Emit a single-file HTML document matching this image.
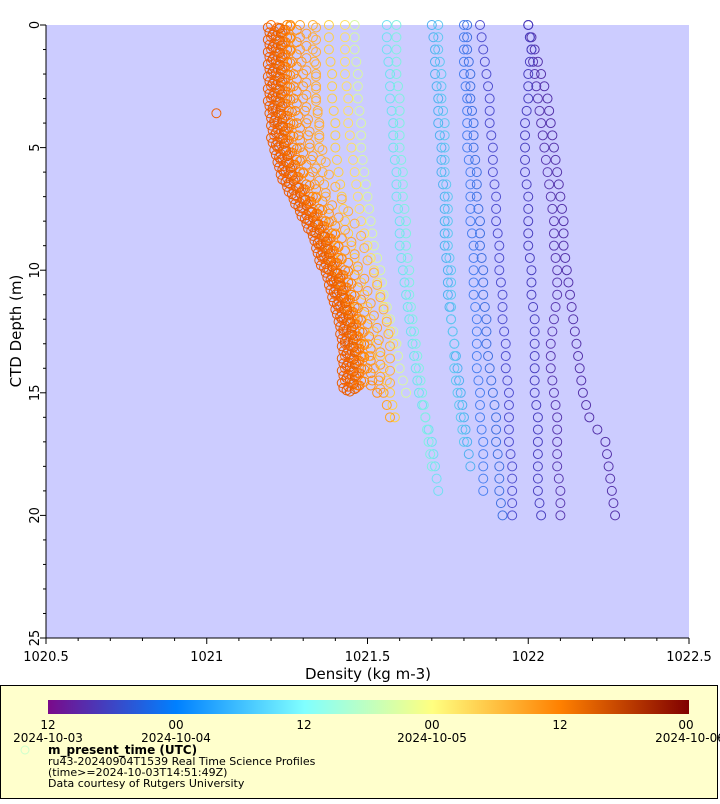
<!DOCTYPE html>
<html><head><meta charset="utf-8"><style>
body{margin:0;background:#fff;width:720px;height:800px;overflow:hidden;font-family:"DejaVu Sans","Liberation Sans",sans-serif}
svg text{font-family:"DejaVu Sans","Liberation Sans",sans-serif}
</style></head><body>
<svg id="chart" width="720" height="800" xmlns="http://www.w3.org/2000/svg">
<defs><linearGradient id="cg" x1="0" x2="1" y1="0" y2="0">
<stop offset="0" stop-color="#7a0a8a"/><stop offset="0.2" stop-color="#0080ff"/><stop offset="0.4" stop-color="#80ffff"/><stop offset="0.6" stop-color="#ffff80"/><stop offset="0.8" stop-color="#ff8000"/><stop offset="1" stop-color="#800000"/></linearGradient></defs>
<rect x="46" y="25" width="643" height="613" fill="#ccccff"/>
<g id="marks"></g>
<g id="axes"></g>
<text x="368" y="679" font-size="15" text-anchor="middle">Density (kg m-3)</text>
<text transform="translate(21,331) rotate(-90)" font-size="15" text-anchor="middle">CTD Depth (m)</text>
<g>
<rect x="0.5" y="685.5" width="717" height="113" fill="#ffffcc" stroke="#000"/>
<rect x="48" y="700" width="641" height="14" fill="url(#cg)"/>
<g font-size="12" text-anchor="middle">
<text x="48" y="729">12</text><text x="176" y="729">00</text><text x="304" y="729">12</text><text x="432" y="729">00</text><text x="560" y="729">12</text><text x="686" y="729">00</text>
<text x="48" y="742">2024-10-03</text><text x="176" y="742">2024-10-04</text><text x="432" y="742">2024-10-05</text><text x="690" y="742">2024-10-06</text>
</g>
<circle cx="25" cy="750" r="4" fill="none" stroke="#ccffcc"/>
<text x="48" y="754" font-size="12" font-weight="bold">m_present_time (UTC)</text>
<text x="48" y="765" font-size="11">ru43-20240904T1539 Real Time Science Profiles</text>
<text x="48" y="776" font-size="11">(time&gt;=2024-10-03T14:51:49Z)</text>
<text x="48" y="787" font-size="11">Data courtesy of Rutgers University</text>
</g>
</svg>
<script>
const xTicks=[1020.5,1021,1021.5,1022,1022.5];
const xTickLabels=["1020.5","1021","1021.5","1022","1022.5"];
const yTicks=[0,5,10,15,20,25];
const orangeBaseDepth=[0,0.5,1,1.5,2,2.5,3,3.5,4,4.5,5,5.5,6,6.5,7,7.5,8,8.5,9,9.5,10,10.5,11,11.5,12,12.5,13,13.5,14,14.5];
const orangeBaseDensity=[1021.22,1021.22,1021.22,1021.22,1021.22,1021.22,1021.22,1021.225,1021.23,1021.23,1021.24,1021.25,1021.26,1021.28,1021.30,1021.32,1021.34,1021.36,1021.37,1021.38,1021.40,1021.41,1021.42,1021.43,1021.44,1021.445,1021.45,1021.45,1021.45,1021.45];
const orangeOffsets=[-0.03,-0.02,-0.01,0,0.01,0.02,0.03,-0.015,0.005,0.015,0.04,-0.005,0.025,-0.025,0.008,0.06,0.09,0.12];
const orangeDepthShift=[0.1,0,0.25,0.1,0.35,0.2,0,0.4,0.15,0.3,0.05,0.45,0.2,0.3,0.12,0.2,0.35,0.1];
const orangeColors=["#e86000","#ff7000","#f06400","#ff6a00","#e05800","#ff7800","#ff8000","#e85a00","#f06800","#f86800","#ff8800","#e86200","#ff7400","#f05c00","#e86600","#ff9020","#ffa030","#ffb040"];
const profDepth=[0,1,2,3,4,5,6,7,8,9,10,11,12,13,14,15,16,17,18,19,20];
const profiles=[
 {c:"#5533aa",d:[1022.0,1022.02,1022.04,1022.06,1022.07,1022.08,1022.09,1022.10,1022.11,1022.11,1022.12,1022.13,1022.14,1022.15,1022.16,1022.17,1022.19,1022.24,1022.25,1022.26,1022.27]},
 {c:"#5a3ab0",d:[1022.0,1022.01,1022.02,1022.03,1022.04,1022.05,1022.06,1022.07,1022.08,1022.08,1022.09,1022.09,1022.08,1022.07,1022.07,1022.08,1022.09,1022.09,1022.09,1022.1,1022.1]},
 {c:"#4a40c0",d:[1022.0,1022.01,1022.0,1022.0,1021.99,1021.99,1021.99,1022.0,1022.0,1022.0,1022.01,1022.01,1022.02,1022.02,1022.02,1022.02,1022.03,1022.03,1022.03,1022.03,1022.04]},
 {c:"#5050d0",d:[1021.85,1021.86,1021.87,1021.88,1021.88,1021.89,1021.89,1021.90,1021.90,1021.91,1021.91,1021.92,1021.92,1021.93,1021.93,1021.94,1021.94,1021.94,1021.95,1021.95,1021.95]},
 {c:"#4070e0",d:[1021.81,1021.81,1021.82,1021.82,1021.83,1021.83,1021.84,1021.84,1021.85,1021.85,1021.86,1021.86,1021.87,1021.87,1021.88,1021.89,1021.90,1021.90,1021.91,1021.91,1021.92]},
 {c:"#4a80f0",d:[1021.80,1021.80,1021.80,1021.81,1021.81,1021.81,1021.82,1021.82,1021.82,1021.83,1021.83,1021.83,1021.84,1021.84,1021.84,1021.85,1021.85,1021.86,1021.86,1021.86,null]},
 {c:"#50b0f0",d:[1021.70,1021.71,1021.71,1021.72,1021.72,1021.73,1021.73,1021.74,1021.74,1021.74,1021.75,1021.75,1021.76,1021.77,1021.78,1021.79,1021.80,1021.81,1021.82,null,null]},
 {c:"#60c8f0",d:[1021.72,1021.72,1021.73,1021.73,1021.74,1021.74,1021.74,1021.75,1021.75,1021.75,1021.76,1021.76,1021.76,1021.77,1021.77,1021.78,1021.79,1021.80,null,null,null]},
 {c:"#70e0f0",d:[1021.56,1021.56,1021.57,1021.57,1021.58,1021.58,1021.59,1021.59,1021.60,1021.60,1021.61,1021.62,1021.63,1021.64,1021.65,1021.66,1021.68,1021.70,1021.71,1021.72,null]},
 {c:"#80f0e0",d:[1021.59,1021.59,1021.59,1021.60,1021.60,1021.60,1021.61,1021.61,1021.62,1021.62,1021.63,1021.63,1021.64,1021.65,1021.66,1021.67,1021.68,1021.69,1021.70,null,null]},
 {c:"#d8f8a0",d:[1021.46,1021.46,1021.47,1021.47,1021.48,1021.48,1021.49,1021.50,1021.51,1021.52,1021.54,1021.55,1021.57,1021.59,1021.60,1021.62,null,null,null,null,null]},
 {c:"#ffd040",d:[1021.38,1021.38,1021.39,1021.39,1021.40,1021.40,1021.41,1021.42,1021.43,1021.45,1021.47,1021.49,1021.51,1021.53,1021.55,1021.57,1021.585,null,null,null,null]},
 {c:"#ffe060",d:[1021.43,1021.43,1021.43,1021.44,1021.44,1021.45,1021.46,1021.47,1021.48,1021.50,1021.52,1021.54,1021.56,1021.58,null,null,null,null,null,null,null]},
 {c:"#ffa020",d:[1021.29,1021.29,1021.30,1021.30,1021.31,1021.32,1021.33,1021.34,1021.36,1021.38,1021.40,1021.43,1021.46,1021.49,1021.52,1021.55,1021.57,null,null,null,null]},
 {c:"#ffb030",d:[1021.33,1021.33,1021.34,1021.34,1021.35,1021.35,1021.36,1021.37,1021.39,1021.41,1021.43,1021.45,1021.48,1021.50,1021.52,null,null,null,null,null,null]},
 {c:"#ff9010",d:[1021.26,1021.26,1021.27,1021.27,1021.28,1021.29,1021.30,1021.32,1021.34,1021.36,1021.39,1021.42,1021.45,1021.47,1021.50,1021.53,null,null,null,null,null]}
];
const X0=46,X1=689,Y0=25,Y1=638;
const xs=v=>X0+(v-1020.5)/2*(X1-X0);
const ys=v=>Y0+v/25*(Y1-Y0);
const NS="http://www.w3.org/2000/svg";
const marks=document.getElementById('marks');
function dot(x,y,c,name){
 const e=document.createElementNS(NS,'circle');
 e.setAttribute('cx',x);e.setAttribute('cy',y);e.setAttribute('r',4.5);
 e.setAttribute('fill','none');e.setAttribute('stroke',c);e.setAttribute('stroke-width','1');
 
 
 marks.appendChild(e);
}
profiles.forEach((p,pi)=>{
 for(let s=0;s<2;s++){
  p.d.forEach((v,i)=>{
   if(v===null)return;
   if(s===1&&i===p.d.length-1)return;
   if(s===1&&p.d[i+1]==null)return;
   const dd=profDepth[i]+s*0.5;
   const vv=s===1?(v+p.d[i+1])/2:v;
   dot(xs(vv),ys(dd),p.c,'profile-'+pi+'-point');
  });
 }
});
orangeOffsets.forEach((o,k)=>{
 orangeBaseDensity.forEach((v,i)=>{
  dot(xs(v+o),ys(orangeBaseDepth[i]+orangeDepthShift[k]),orangeColors[k],'orange-profile-point');
 });
});
dot(xs(1021.03),ys(3.6),"#f06000",'outlier-point');
const ax=document.getElementById('axes');
function el(tag,attrs,name,txt){
 const e=document.createElementNS(NS,tag);
 for(const k in attrs)e.setAttribute(k,attrs[k]);
 
 
 if(txt!==undefined)e.textContent=txt;
 ax.appendChild(e);return e;
}
el('line',{x1:X0,y1:Y1,x2:X1,y2:Y1,stroke:'#000'},'x-axis-line');
el('line',{x1:X0,y1:Y0,x2:X0,y2:Y1,stroke:'#000'},'y-axis-line');
for(let i=0;i<=20;i++){const v=1020.5+i*0.1;const maj=i%5===0;
 el('line',{x1:xs(v),y1:Y1,x2:xs(v),y2:Y1+(maj?6:3),stroke:'#000'},'x-tick');}
xTicks.forEach((v,i)=>el('text',{x:xs(v),y:Y1+23,'font-size':13,'text-anchor':'middle'},'x-tick-label',xTickLabels[i]));
for(let i=0;i<=25;i++){const maj=i%5===0;
 el('line',{x1:X0,y1:ys(i),x2:X0-(maj?6:3),y2:ys(i),stroke:'#000'},'y-tick');}
yTicks.forEach(v=>el('text',{transform:`translate(39,${ys(v)}) rotate(-90)`,'font-size':13,'text-anchor':'middle'},'y-tick-label',String(v)));
</script>
</body></html>
